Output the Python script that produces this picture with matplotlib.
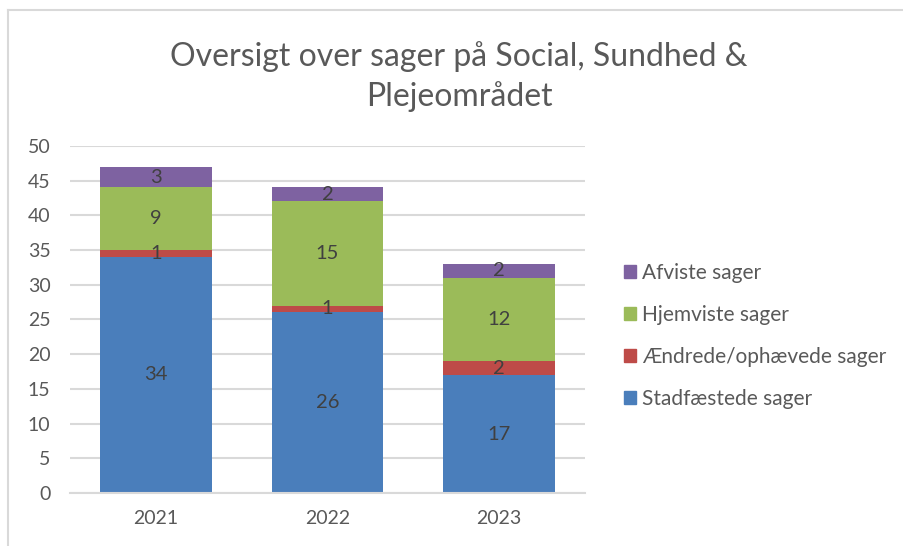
import matplotlib.pyplot as plt
import numpy as np
from matplotlib.patches import Rectangle
from matplotlib.lines import Line2D

years = ['2021', '2022', '2023']
stadfaestede = [34, 26, 17]
aendrede = [1, 1, 2]
hjemviste = [9, 15, 12]
afviste = [3, 2, 2]

series = [
    ('Stadfæstede sager', stadfaestede, '#4A7EBB'),
    ('Ændrede/ophævede sager', aendrede, '#BE4B48'),
    ('Hjemviste sager', hjemviste, '#9BBB59'),
    ('Afviste sager', afviste, '#7E62A1'),
]

plt.rcParams['font.family'] = ['Lato', 'DejaVu Sans']

fig = plt.figure(figsize=(9.04, 5.46), dpi=100)
ax = fig.add_axes([0.0774, 0.097, 0.5696, 0.636])

x = np.arange(len(years))
bottom = np.zeros(len(years))
handles = []
for name, vals, col in series:
    vals = np.array(vals, dtype=float)
    ax.bar(x, vals, width=0.65, bottom=bottom, color=col, zorder=2)
    for xi, b, v in zip(x, bottom, vals):
        ax.text(xi, b + v / 2, f'{int(v)}', ha='center', va='center',
                fontsize=14.5, color='#404040', zorder=3)
    bottom += vals
    handles.append(Rectangle((0, 0), 1, 1, color=col, label=name))

ax.set_xlim(-0.5, 2.5)
ax.set_ylim(0, 50)
ax.set_yticks(range(0, 51, 5))
ax.yaxis.grid(True, color='#D9D9D9', linewidth=1.5, zorder=0)
ax.set_axisbelow(True)
for s in ['top', 'right', 'left']:
    ax.spines[s].set_visible(False)
ax.spines['bottom'].set_color('#D9D9D9')
ax.spines['bottom'].set_linewidth(1.5)
ax.set_xticks(x)
ax.set_xticklabels(years)
ax.tick_params(axis='both', length=0, labelsize=14, labelcolor='#595959')
ax.tick_params(axis='x', pad=12)
ax.tick_params(axis='y', pad=14)

fig.text(0.508, 0.86, 'Oversigt over sager på Social, Sundhed &\nPlejeområdet',
         ha='center', va='center', fontsize=23, color='#595959', linespacing=1.35)

leg = fig.legend(handles=handles[::-1], loc='center left', bbox_to_anchor=(0.669, 0.385),
                 frameon=False, fontsize=15, labelcolor='#595959',
                 handlelength=0.6, handleheight=0.6, handletextpad=0.3, labelspacing=1.05)

# chart border (top and left edges visible)
fig.add_artist(Line2D([0.009, 1.0], [0.982, 0.982], color='#D9D9D9', lw=1.5))
fig.add_artist(Line2D([0.009, 0.009], [0.0, 0.982], color='#D9D9D9', lw=1.5))

fig.savefig('out.png', dpi=100)
